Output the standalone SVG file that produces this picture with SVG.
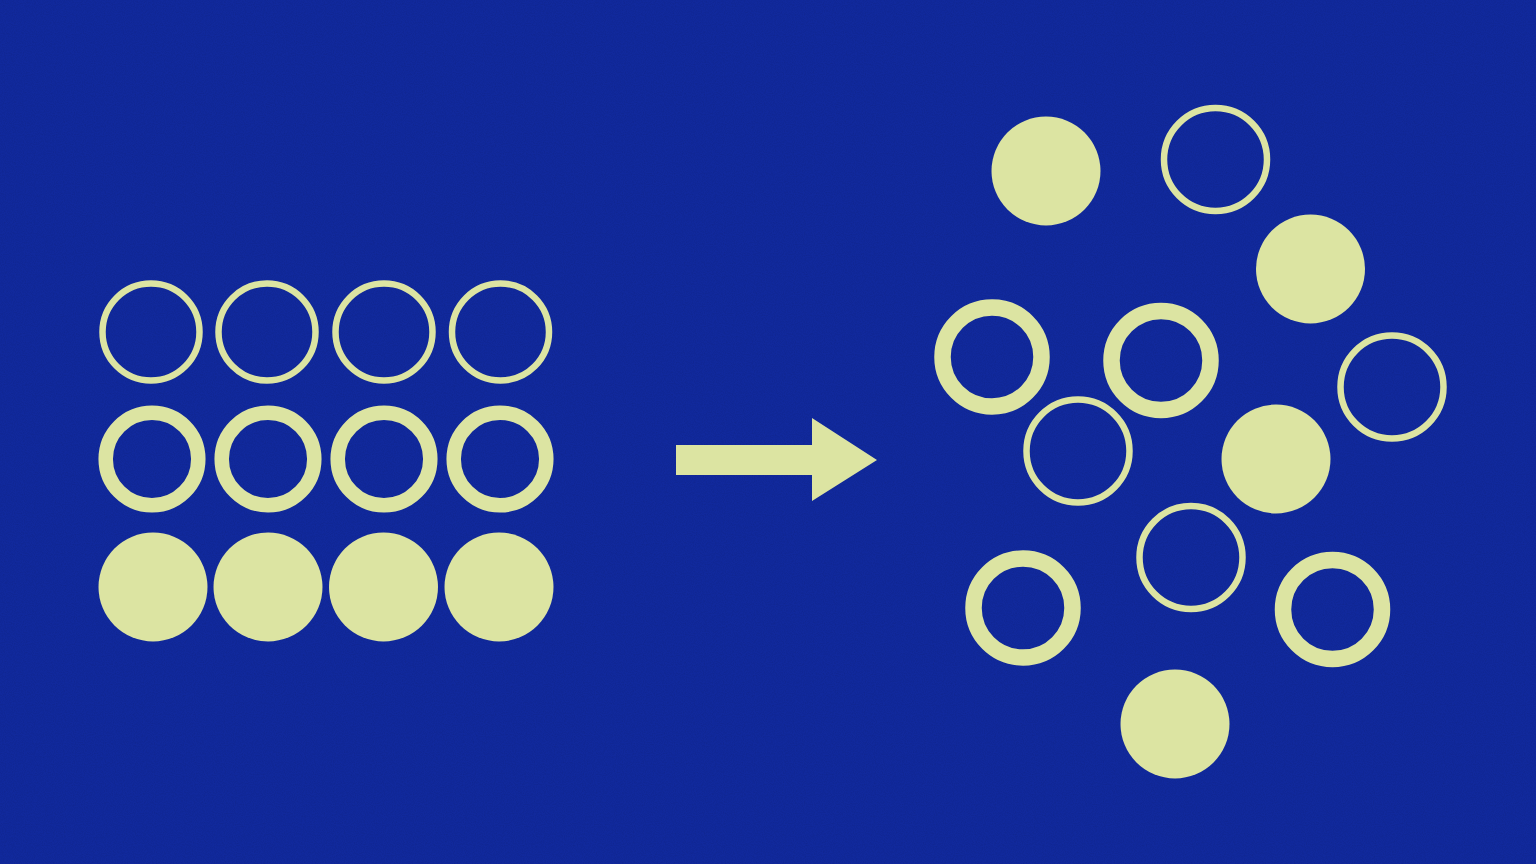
<svg xmlns="http://www.w3.org/2000/svg" width="1536" height="864" viewBox="0 0 1536 864" shape-rendering="geometricPrecision">
  <defs>
    <filter id="grain" x="0" y="0" width="100%" height="100%">
      <feTurbulence type="fractalNoise" baseFrequency="0.9" numOctaves="2" seed="3" result="n"/>
      <feColorMatrix type="matrix" values="0 0 0 0 0  0 0 0 0 0  0 0 0 0 0  0 0 0 -0.9 0.55" in="n"/>
    </filter>
  </defs>
  <style>
    .thin { fill: none; stroke: #dce4a2; stroke-width: 6.5; }
    .thickL { fill: none; stroke: #dce4a2; stroke-width: 14.5; }
    .thickR { fill: none; stroke: #dce4a2; stroke-width: 16.5; }
    .solid { fill: #dce4a2; }
  </style>
  <rect width="1536" height="864" fill="#11299c"/>
  <rect width="1536" height="864" filter="url(#grain)" opacity="0.15"/>

  <g id="grid">
    <g id="row-thin">
      <circle class="thin" cx="151" cy="332" r="48.5"/>
      <circle class="thin" cx="267" cy="332" r="48.5"/>
      <circle class="thin" cx="384" cy="332" r="48.5"/>
      <circle class="thin" cx="500.5" cy="332" r="48.5"/>
    </g>
    <g id="row-thick">
      <circle class="thickL" cx="152" cy="459" r="46.3"/>
      <circle class="thickL" cx="268" cy="459" r="46.3"/>
      <circle class="thickL" cx="384" cy="459" r="46.3"/>
      <circle class="thickL" cx="500" cy="459" r="46.3"/>
    </g>
    <g id="row-solid">
      <circle class="solid" cx="153" cy="587" r="54.5"/>
      <circle class="solid" cx="268" cy="587" r="54.5"/>
      <circle class="solid" cx="383.5" cy="587" r="54.5"/>
      <circle class="solid" cx="499" cy="587" r="54.5"/>
    </g>
  </g>

  <g id="arrow">
    <path class="solid" d="M676,445 L812,445 L812,418 L877,460 L812,501 L812,475 L676,475 Z"/>
  </g>

  <g id="scatter">
    <circle class="solid" cx="1046" cy="171" r="54.5"/>
    <circle class="thin" cx="1215.5" cy="159.5" r="51.5"/>
    <circle class="solid" cx="1310.5" cy="269" r="54.5"/>
    <circle class="thickR" cx="992" cy="357" r="49.5"/>
    <circle class="thickR" cx="1161" cy="360.5" r="49.5"/>
    <circle class="thin" cx="1392" cy="387" r="51.5"/>
    <circle class="thin" cx="1078" cy="451" r="51.5"/>
    <circle class="solid" cx="1276" cy="459" r="54.5"/>
    <circle class="thin" cx="1191" cy="557.5" r="51.5"/>
    <circle class="thickR" cx="1023" cy="608" r="49.5"/>
    <circle class="thickR" cx="1332.5" cy="609.5" r="49.5"/>
    <circle class="solid" cx="1175" cy="724" r="54.5"/>
  </g>
</svg>
